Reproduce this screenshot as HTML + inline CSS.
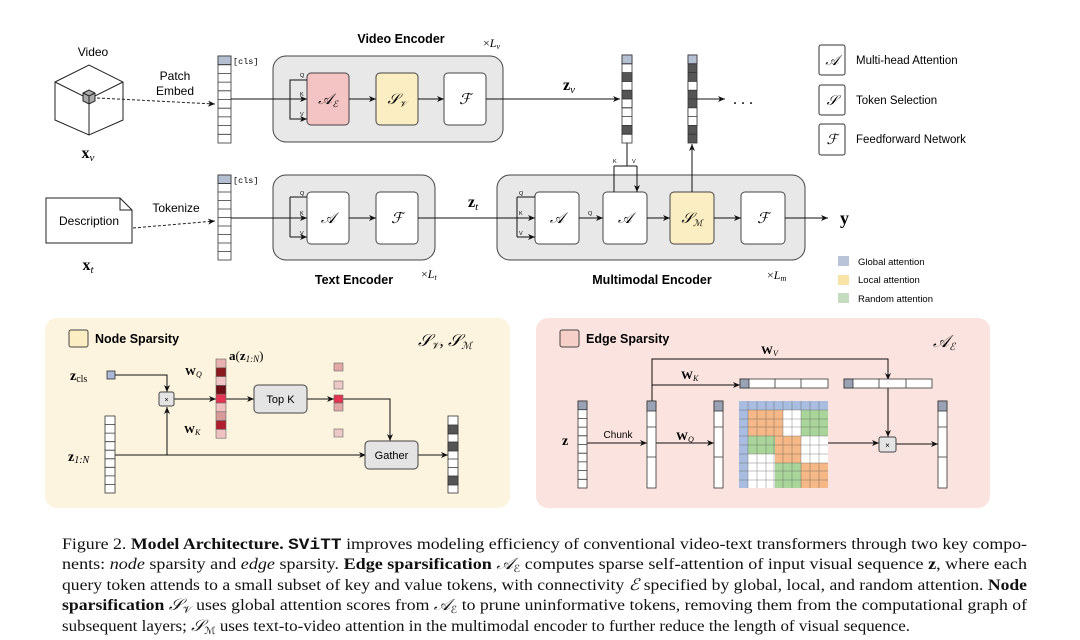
<!DOCTYPE html>
<html><head><meta charset="utf-8"><style>
html,body{margin:0;padding:0;background:#fff;width:1080px;height:640px;overflow:hidden}
svg{display:block}
.s{font-family:"Liberation Sans",sans-serif}
.m{font-family:"Liberation Serif",serif}
</style></head><body>
<svg width="1080" height="640" viewBox="0 0 1080 640" xmlns="http://www.w3.org/2000/svg">
<defs>
<marker id="a" markerWidth="8" markerHeight="8" refX="7" refY="4" orient="auto" markerUnits="userSpaceOnUse"><path d="M0,1 L7,4 L0,7 L2,4 Z" fill="#111"/></marker>
</defs>
<g stroke="#222" stroke-width="1" fill="none">
<!-- cube -->
<path d="M55,82 L89,65 L123,82 L123,120 L89,135 L55,120 Z" fill="#fff"/>
<path d="M55,82 L89,99 L123,82 M89,99 L89,135"/>
<path d="M83,93 L89,90 L95,93 L95,101 L89,104 L83,101 Z" fill="#aaa"/>
<path d="M83,93 L89,96 L95,93 M89,96 L89,104"/>
<path d="M97,98 L215,104" stroke-dasharray="3,2" marker-end="url(#a)"/>
<!-- description -->
<path d="M46,198 L120,198 L132,210 L132,243 L46,243 Z" fill="#fff"/>
<path d="M120,198 L120,210 L132,210"/>
<path d="M133,228 L215,221" stroke-dasharray="3,2" marker-end="url(#a)"/>
</g>
<text x="93" y="56" class="s" font-size="12" text-anchor="middle">Video</text>
<text x="89" y="225" class="s" font-size="12" text-anchor="middle">Description</text>
<text x="88" y="158" class="m" font-size="16" font-weight="bold" text-anchor="middle">x<tspan font-size="11" font-style="italic" font-weight="normal" dy="3">v</tspan></text>
<text x="88" y="270" class="m" font-size="16" font-weight="bold" text-anchor="middle">x<tspan font-size="11" font-style="italic" font-weight="normal" dy="3">t</tspan></text>
<text x="175" y="80" class="s" font-size="12" text-anchor="middle">Patch</text>
<text x="175" y="95" class="s" font-size="12" text-anchor="middle">Embed</text>
<text x="176" y="212" class="s" font-size="12" text-anchor="middle">Tokenize</text>
<!-- token cols -->
<g stroke="#333" stroke-width="0.8" fill="#fff">
<rect x="218" y="56" width="13" height="87"/>
<rect x="218" y="56" width="13" height="8.7" fill="#b4bfd2"/>
<path d="M218,64.7h13M218,73.4h13M218,82.1h13M218,90.8h13M218,99.5h13M218,108.2h13M218,116.9h13M218,125.6h13M218,134.3h13"/>
<rect x="218" y="175" width="13" height="85"/>
<rect x="218" y="175" width="13" height="8.5" fill="#b4bfd2"/>
<path d="M218,183.5h13M218,192h13M218,200.5h13M218,209h13M218,217.5h13M218,226h13M218,234.5h13M218,243h13M218,251.5h13"/>
</g>
<text x="233" y="64" font-family="Liberation Mono,monospace" font-size="8.5">[cls]</text>
<text x="233" y="183" font-family="Liberation Mono,monospace" font-size="8.5">[cls]</text>
<!-- encoders -->
<g stroke="#444" stroke-width="1">
<rect x="273" y="56" width="230" height="86" rx="13" fill="#e8e8e8"/>
<rect x="273" y="175" width="162" height="85" rx="13" fill="#e8e8e8"/>
<rect x="497" y="175" width="308" height="85" rx="13" fill="#e8e8e8"/>
<rect x="307" y="73" width="42" height="52" rx="4" fill="#f4c4c4"/>
<rect x="376" y="73" width="42" height="52" rx="4" fill="#fbeec2"/>
<rect x="444" y="73" width="42" height="52" rx="4" fill="#fff"/>
<rect x="307" y="192" width="42" height="52" rx="4" fill="#fff"/>
<rect x="376" y="192" width="42" height="52" rx="4" fill="#fff"/>
<rect x="535" y="192" width="44" height="52" rx="4" fill="#fff"/>
<rect x="603" y="192" width="44" height="52" rx="4" fill="#fff"/>
<rect x="670" y="192" width="44" height="52" rx="4" fill="#fbeec2"/>
<rect x="741" y="192" width="44" height="52" rx="4" fill="#fff"/>
</g>
<g stroke="#111" stroke-width="1" fill="none">
<path d="M231,99H307" marker-end="url(#a)"/>
<path d="M297,80H290V119H297M290,80H307M290,119H307" />
<path d="M298,80H307M298,119H307" marker-end="url(#a)"/>
<path d="M349,99H376" marker-end="url(#a)"/>
<path d="M418,99H444" marker-end="url(#a)"/>
<path d="M486,99H620" marker-end="url(#a)"/>
<path d="M231,218H307" marker-end="url(#a)"/>
<path d="M290,197V237M290,197H307M290,237H307"/>
<path d="M298,197H307M298,237H307" marker-end="url(#a)"/>
<path d="M349,218H376" marker-end="url(#a)"/>
<path d="M418,218H535" marker-end="url(#a)"/>
<path d="M517,197V237M517,197H535M517,237H535"/>
<path d="M525,197H535M525,237H535" marker-end="url(#a)"/>
<path d="M579,218H603" marker-end="url(#a)"/>
<path d="M647,218H670" marker-end="url(#a)"/>
<path d="M714,218H741" marker-end="url(#a)"/>
<path d="M785,218H828" marker-end="url(#a)"/>
<path d="M627,143V166M614,166H637M614,166V192M637,166V192" />
<path d="M614,180V192M637,180V192" marker-end="url(#a)"/>
<path d="M692,192V144" marker-end="url(#a)"/>
<path d="M697,99H725" marker-end="url(#a)"/>
</g>
<g class="s" font-size="5.5"><text x="300" y="77">Q</text><text x="300" y="96">K</text><text x="300" y="116">V</text>
<text x="300" y="195">Q</text><text x="300" y="215">K</text><text x="300" y="235">V</text>
<text x="519" y="195">Q</text><text x="519" y="215">K</text><text x="519" y="235">V</text>
<text x="588" y="215">Q</text><text x="613" y="163">K</text><text x="632" y="163">V</text></g>
<g class="m" font-style="italic" font-size="15" text-anchor="middle" font-family="Liberation Serif,serif">
<text x="328" y="104">𝒜<tspan font-size="9" dy="3">ℰ</tspan></text>
<text x="397" y="104">𝒮<tspan font-size="9" dy="3">𝒱</tspan></text>
<text x="465" y="104">ℱ</text>
<text x="328" y="223">𝒜</text><text x="397" y="223">ℱ</text>
<text x="557" y="223">𝒜</text><text x="625" y="223">𝒜</text>
<text x="692" y="223">𝒮<tspan font-size="9" dy="3">ℳ</tspan></text>
<text x="763" y="223">ℱ</text>
</g>
<text x="401" y="43" class="s" font-size="12.5" font-weight="bold" text-anchor="middle">Video Encoder</text>
<text x="354" y="284" class="s" font-size="12.5" font-weight="bold" text-anchor="middle">Text Encoder</text>
<text x="652" y="284" class="s" font-size="12.5" font-weight="bold" text-anchor="middle">Multimodal Encoder</text>
<g class="m" font-size="12"><text x="483" y="47">×<tspan font-style="italic">L</tspan><tspan font-size="8" font-style="italic" dy="2">v</tspan></text>
<text x="421" y="278">×<tspan font-style="italic">L</tspan><tspan font-size="8" font-style="italic" dy="2">t</tspan></text>
<text x="767" y="279">×<tspan font-style="italic">L</tspan><tspan font-size="8" font-style="italic" dy="2">m</tspan></text></g>
<text x="563" y="90" class="m" font-size="16" font-weight="bold">z<tspan font-size="11" font-style="italic" font-weight="normal" dy="3">v</tspan></text>
<text x="468" y="207" class="m" font-size="16" font-weight="bold">z<tspan font-size="11" font-style="italic" font-weight="normal" dy="3">t</tspan></text>
<text x="840" y="224" class="m" font-size="18" font-weight="bold">y</text>
<text x="733" y="104" class="m" font-size="16">. . .</text>
<!-- zv col -->
<g stroke="#333" stroke-width="0.8">
<rect x="622" y="55" width="10" height="88" fill="#fff"/>
<rect x="622" y="55" width="10" height="8.8" fill="#b4bfd2"/>
<rect x="622" y="72.6" width="10" height="8.8" fill="#555"/>
<rect x="622" y="90.2" width="10" height="8.8" fill="#555"/>
<rect x="622" y="99" width="10" height="8.8" fill="#fff"/>
<rect x="622" y="125.4" width="10" height="8.8" fill="#555"/>
<path d="M622,63.8h10M622,81.4h10M622,107.8h10M622,116.6h10M622,134.2h10"/>
<rect x="688" y="55" width="9" height="88" fill="#555"/>
<rect x="688" y="55" width="9" height="8.8" fill="#b4bfd2"/>
<rect x="688" y="81.4" width="9" height="8.8" fill="#fff"/>
<rect x="688" y="107.8" width="9" height="17.6" fill="#fff"/>
<path d="M688,63.8h9M688,72.6h9M688,99h9M688,116.6h9M688,134.2h9"/>
</g>
<!-- legend -->
<g stroke="#333" fill="#fff"><rect x="819" y="45" width="26" height="30" rx="2"/><rect x="819" y="85" width="26" height="30" rx="2"/><rect x="819" y="124" width="26" height="31" rx="2"/></g>
<g class="m" font-style="italic" font-size="14" text-anchor="middle"><text x="832" y="65">𝒜</text><text x="832" y="105">𝒮</text><text x="832" y="144">ℱ</text></g>
<g class="s" font-size="11.5"><text x="856" y="64">Multi-head Attention</text><text x="856" y="104">Token Selection</text><text x="856" y="143">Feedforward Network</text></g>
<rect x="838" y="256" width="11" height="10" fill="#b9c4d8"/>
<rect x="838" y="275" width="11" height="10" fill="#f8e3a6"/>
<rect x="838" y="293" width="11" height="10" fill="#c5dcc0"/>
<g class="s" font-size="9.5"><text x="858" y="265">Global attention</text><text x="858" y="283">Local attention</text><text x="858" y="302">Random attention</text></g>

<!-- Node sparsity panel -->
<rect x="45" y="318" width="465" height="190" rx="12" fill="#fdf4df"/>
<rect x="69" y="330" width="19" height="17" rx="2" fill="#fbeec2" stroke="#444"/>
<text x="95" y="343" class="s" font-size="12.5" font-weight="bold">Node Sparsity</text>
<text x="418" y="346" class="m" font-size="17" font-style="italic">𝒮<tspan font-size="10" dy="3">𝒱</tspan><tspan dy="-3">, 𝒮</tspan><tspan font-size="10" dy="3">ℳ</tspan></text>
<text x="70" y="380" class="m" font-size="14" font-weight="bold">z<tspan font-size="10" font-weight="normal" dy="2">cls</tspan></text>
<text x="68" y="461" class="m" font-size="14" font-weight="bold">z<tspan font-size="10" font-weight="normal" font-style="italic" dy="2">1:N</tspan></text>
<rect x="107" y="371" width="8" height="8" fill="#a9b8d8" stroke="#333" stroke-width="0.8"/>
<g stroke="#111" fill="none">
<path d="M115,375H167V392" marker-end="url(#a)"/>
<path d="M115,455H366" marker-end="url(#a)"/>
<path d="M167,455V407" marker-end="url(#a)"/>
<path d="M173,399H216" marker-end="url(#a)"/>
<path d="M226,399H254" marker-end="url(#a)"/>
<path d="M307,399H334" marker-end="url(#a)"/>
<path d="M343,399H390V441" marker-end="url(#a)"/>
<path d="M418,455H448" marker-end="url(#a)"/>
</g>
<rect x="159" y="392" width="15" height="14" rx="2" fill="#e4e4e4" stroke="#444"/>
<text x="166.5" y="402" class="s" font-size="7" text-anchor="middle">×</text>
<text x="185" y="375" class="m" font-size="11" font-weight="bold">W<tspan font-size="8" font-style="italic" font-weight="normal" dy="2">Q</tspan></text>
<text x="184" y="433" class="m" font-size="11" font-weight="bold">W<tspan font-size="8" font-style="italic" font-weight="normal" dy="2">K</tspan></text>
<text x="229" y="360" class="m" font-size="13"><tspan font-weight="bold">a</tspan>(<tspan font-weight="bold">z</tspan><tspan font-size="9" font-style="italic" dy="2">1:N</tspan><tspan dy="-2">)</tspan></text>
<g stroke="#666" stroke-width="0.6">
<rect x="216" y="359" width="10" height="8.8" fill="#e8b0b0"/>
<rect x="216" y="367.8" width="10" height="8.8" fill="#8a1a20"/>
<rect x="216" y="376.6" width="10" height="8.8" fill="#f1c5c5"/>
<rect x="216" y="385.4" width="10" height="8.8" fill="#6d1015"/>
<rect x="216" y="394.2" width="10" height="8.8" fill="#e33552"/>
<rect x="216" y="403" width="10" height="8.8" fill="#f0c0c0"/>
<rect x="216" y="411.8" width="10" height="8.8" fill="#d99a9a"/>
<rect x="216" y="420.6" width="10" height="8.8" fill="#b01d2c"/>
<rect x="216" y="429.4" width="10" height="8.8" fill="#efc2c2"/>
<rect x="334" y="363" width="9" height="8" fill="#e2a8a8"/>
<rect x="334" y="381" width="9" height="8" fill="#eec8c8"/>
<rect x="334" y="395" width="9" height="8" fill="#e33552"/>
<rect x="334" y="403" width="9" height="8" fill="#e2a8a8"/>
<rect x="334" y="429" width="9" height="8" fill="#eec8c8"/>
</g>
<rect x="254" y="385" width="53" height="28" rx="4" fill="#e4e4e4" stroke="#444"/>
<text x="280.5" y="403" class="s" font-size="11" text-anchor="middle">Top K</text>
<rect x="365" y="441" width="53" height="28" rx="4" fill="#e4e4e4" stroke="#444"/>
<text x="391.5" y="459" class="s" font-size="11" text-anchor="middle">Gather</text>
<g stroke="#333" stroke-width="0.8" fill="#fff">
<rect x="105" y="416" width="10" height="77"/>
<path d="M105,424.6h10M105,433.1h10M105,441.7h10M105,450.2h10M105,458.8h10M105,467.3h10M105,475.9h10M105,484.4h10"/>
<rect x="448" y="416" width="10" height="77"/>
<rect x="448" y="425" width="10" height="9" fill="#555"/>
<rect x="448" y="442" width="10" height="9" fill="#555"/>
<rect x="448" y="476" width="10" height="9" fill="#555"/>
<path d="M448,459h10M448,467.5h10"/>
</g>

<!-- Edge sparsity panel -->
<rect x="536" y="318" width="454" height="190" rx="12" fill="#fbe4df"/>
<rect x="560" y="330" width="19" height="17" rx="2" fill="#f6cfc9" stroke="#444"/>
<text x="586" y="343" class="s" font-size="12.5" font-weight="bold">Edge Sparsity</text>
<text x="933" y="347" class="m" font-size="17" font-style="italic">𝒜<tspan font-size="10" dy="3">ℰ</tspan></text>
<text x="562" y="445" class="m" font-size="14" font-weight="bold">z</text>
<text x="618" y="438" class="s" font-size="10" text-anchor="middle">Chunk</text>
<text x="676" y="440" class="m" font-size="12" font-weight="bold">W<tspan font-size="8" font-style="italic" font-weight="normal" dy="2">Q</tspan></text>
<text x="681" y="379" class="m" font-size="12" font-weight="bold">W<tspan font-size="8" font-style="italic" font-weight="normal" dy="2">K</tspan></text>
<text x="761" y="354" class="m" font-size="12" font-weight="bold">W<tspan font-size="8" font-style="italic" font-weight="normal" dy="2">V</tspan></text>
<g stroke="#111" fill="none">
<path d="M587,443H647" marker-end="url(#a)"/>
<path d="M656,443H714" marker-end="url(#a)"/>
<path d="M652,401V359H888V380" marker-end="url(#a)"/>
<path d="M652,385H740" marker-end="url(#a)"/>
<path d="M888,388V437" marker-end="url(#a)"/>
<path d="M828,443H879" marker-end="url(#a)"/>
<path d="M896,444H938" marker-end="url(#a)"/>
</g>
<g stroke="#333" stroke-width="0.8" fill="#fff">
<rect x="578" y="401" width="9" height="87"/>
<rect x="578" y="401" width="9" height="8.7" fill="#9aa3b5"/>
<path d="M578,418.4h9M578,427.1h9M578,435.8h9M578,444.5h9M578,453.2h9M578,461.9h9M578,470.6h9M578,479.3h9"/>
<rect x="647" y="401" width="9" height="87"/><rect x="647" y="401" width="9" height="10" fill="#9aa3b5"/><path d="M647,427h9M647,457h9"/>
<rect x="714" y="401" width="9" height="87"/><rect x="714" y="401" width="9" height="10" fill="#9aa3b5"/><path d="M714,427h9M714,457h9"/>
<rect x="938" y="401" width="9" height="87"/><rect x="938" y="401" width="9" height="10" fill="#9aa3b5"/><path d="M938,427h9M938,457h9"/>
<rect x="740" y="379" width="88" height="9"/><rect x="740" y="379" width="9" height="9" fill="#9aa3b5"/><path d="M775,379v9M801,379v9"/>
<rect x="844" y="379" width="88" height="9"/><rect x="844" y="379" width="9" height="9" fill="#9aa3b5"/><path d="M879,379v9M906,379v9"/>
</g>
<rect x="879" y="437" width="17" height="15" rx="2" fill="#e4e4e4" stroke="#444"/>
<text x="887.5" y="448" class="s" font-size="8" text-anchor="middle">×</text>
<!-- matrix -->
<rect x="739" y="401" width="89" height="87" fill="#fff"/>
<rect x="739" y="401" width="89" height="9" fill="#a8bddf"/>
<rect x="739" y="401" width="9" height="87" fill="#a8bddf"/>
<rect x="748" y="410" width="35" height="26" fill="#f5b886"/>
<rect x="801" y="410" width="27" height="26" fill="#a9d59a"/>
<rect x="748" y="436" width="27" height="18" fill="#a9d59a"/>
<rect x="775" y="436" width="26" height="27" fill="#f5b886"/>
<rect x="775" y="463" width="26" height="25" fill="#a9d59a"/>
<rect x="801" y="463" width="27" height="25" fill="#f5b886"/>
<g stroke="#555" stroke-width="0.5" opacity="0.7">
<path d="M748,401v87M757,401v87M766,401v87M774,401v87M783,401v87M792,401v87M801,401v87M810,401v87M819,401v87"/>
<path d="M739,410h89M739,419h89M739,427h89M739,436h89M739,445h89M739,454h89M739,463h89M739,471h89M739,480h89"/>
</g>

<!-- caption -->
<g font-family="Liberation Serif,serif" font-size="16" fill="#111">
<text x="62" y="549" textLength="965" lengthAdjust="spacingAndGlyphs">Figure 2. <tspan font-weight="bold">Model Architecture.</tspan> <tspan font-family="Liberation Mono,monospace" font-weight="bold">SViTT</tspan> improves modeling efficiency of conventional video-text transformers through two key compo-</text>
<text x="62" y="569" textLength="965" lengthAdjust="spacingAndGlyphs">nents: <tspan font-style="italic">node</tspan> sparsity and <tspan font-style="italic">edge</tspan> sparsity. <tspan font-weight="bold">Edge sparsification</tspan> <tspan font-style="italic">𝒜</tspan><tspan font-size="10" dy="3">ℰ</tspan><tspan dy="-3"> computes sparse self-attention of input visual sequence </tspan><tspan font-weight="bold">z</tspan>, where each</text>
<text x="62" y="590" textLength="965" lengthAdjust="spacingAndGlyphs">query token attends to a small subset of key and value tokens, with connectivity <tspan font-style="italic">ℰ</tspan> specified by global, local, and random attention. <tspan font-weight="bold">Node</tspan></text>
<text x="62" y="610" textLength="965" lengthAdjust="spacingAndGlyphs"><tspan font-weight="bold">sparsification</tspan> <tspan font-style="italic">𝒮</tspan><tspan font-size="10" dy="3">𝒱</tspan><tspan dy="-3"> uses global attention scores from </tspan><tspan font-style="italic">𝒜</tspan><tspan font-size="10" dy="3">ℰ</tspan><tspan dy="-3"> to prune uninformative tokens, removing them from the computational graph of</tspan></text>
<text x="62" y="631" textLength="848" lengthAdjust="spacingAndGlyphs">subsequent layers; <tspan font-style="italic">𝒮</tspan><tspan font-size="10" dy="3">ℳ</tspan><tspan dy="-3"> uses text-to-video attention in the multimodal encoder to further reduce the length of visual sequence.</tspan></text>
</g>
</svg>
</body></html>
